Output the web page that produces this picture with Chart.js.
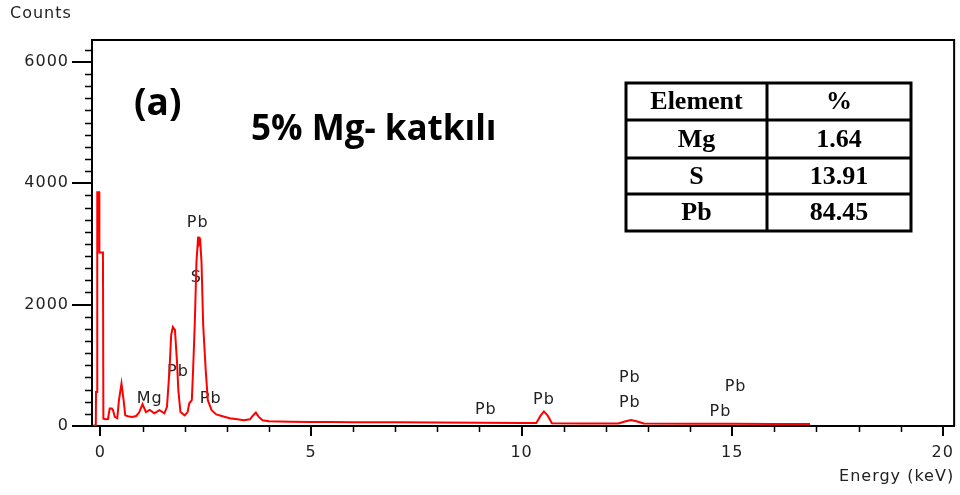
<!DOCTYPE html>
<html lang="tr">
<head>
  <meta charset="UTF-8">
  <title>EDS - 5% Mg- katkılı</title>
  <script src="https://cdn.jsdelivr.net/npm/chart.js"></script>
  <style>
    body { margin: 0; background: #fff; }
    #wrap { width: 960px; height: 495px; }
  </style>
</head>
<body>
  <div id="wrap"><canvas id="edsChart" width="960" height="495"></canvas></div>
  <script>
    // EDS spectrum: energy (keV) and counts
    const energies = [
      -0.17, -0.11, -0.105, -0.08, -0.075, -0.03, -0.025, 0.06, 0.07, 0.12,
      0.18, 0.22, 0.27, 0.30, 0.34, 0.40, 0.44, 0.50, 0.55, 0.59,
      0.65, 0.75, 0.85, 0.92, 1.00, 1.08, 1.17, 1.28, 1.40, 1.52,
      1.58, 1.64, 1.68, 1.72, 1.77, 1.82, 1.85, 1.90, 2.00, 2.07,
      2.11, 2.17, 2.20, 2.24, 2.28, 2.32, 2.34, 2.37, 2.40, 2.44,
      2.50, 2.55, 2.64, 2.75, 2.90, 3.07, 3.25, 3.40, 3.55, 3.62,
      3.69, 3.76, 3.85, 4.0, 4.5, 5.0, 5.5, 6.0, 7.0, 8.0,
      9.0, 10.0, 10.35, 10.45, 10.53, 10.62, 10.72, 11.5, 12.3, 12.45,
      12.6, 12.75, 12.9, 14.0, 15.0, 16.0, 16.85
    ];
    const counts = [
      10, 10, 560, 560, 3850, 3850, 2860, 2860, 120, 110,
      115, 290, 290, 260, 150, 130, 425, 700, 425, 175,
      160, 150, 165, 225, 360, 230, 265, 210, 260, 210,
      315, 920, 1500, 1630, 1580, 1035, 590, 230, 175, 230,
      375, 425, 920, 1680, 2700, 3120, 3000, 3050, 2700, 1660,
      920, 425, 260, 190, 160, 127, 110, 95, 110, 170,
      220, 150, 95, 80, 70, 66, 64, 62, 60, 56,
      52, 48, 48, 170, 240, 170, 45, 42, 40, 75,
      100, 75, 40, 38, 36, 34, 32
    ];

    const xTicks = [0, 5, 10, 15, 20];
    const yTicks = [0, 2000, 4000, 6000];

    // peak labels (name, energy, height of the label)
    const peakNames = ['Pb', 'S', 'Pb', 'Mg', 'Pb', 'Pb', 'Pb', 'Pb', 'Pb', 'Pb', 'Pb'];
    const peakKeV   = [2.31, 2.28, 1.84, 1.17, 2.62, 9.15, 10.53, 12.57, 12.57, 14.72, 15.08];
    const peakAt    = [3345, 2437, 886, 440, 440, 259, 424, 787, 375, 231, 644];

    // composition table
    const tableHead = ['Element', '%'];
    const elements = ['Mg', 'S', 'Pb'];
    const percents = ['1.64', '13.91', '84.45'];

    const tickFont = { family: 'DejaVu Sans', size: 16 };

    const extras = {
      id: 'extras',
      beforeDraw(chart) {
        // the instrument font is a bit wider
        chart.ctx.letterSpacing = '1px';
      },
      beforeDatasetsDraw(chart) {
        const ctx = chart.ctx;
        const xs = chart.scales.x, ys = chart.scales.y;
        ctx.save();
        ctx.font = '16px "DejaVu Sans"';
        ctx.fillStyle = '#222';
        ctx.textAlign = 'center';
        ctx.textBaseline = 'middle';
        peakNames.forEach((n, i) => {
          ctx.fillText(n, xs.getPixelForValue(peakKeV[i]), ys.getPixelForValue(peakAt[i]));
        });
        ctx.restore();
      },
      afterDraw(chart) {
        const ctx = chart.ctx;
        const a = chart.chartArea;
        const xs = chart.scales.x, ys = chart.scales.y;
        ctx.save();
        ctx.strokeStyle = '#000';
        ctx.lineWidth = 2;
        // top and right frame
        ctx.beginPath();
        ctx.moveTo(a.left, a.top);
        ctx.lineTo(a.right, a.top);
        ctx.lineTo(a.right, a.bottom);
        ctx.stroke();
        // minor ticks
        ctx.lineWidth = 1.5;
        ctx.beginPath();
        for (let v = 200; v <= 6200; v += 200) {
          if (v % 2000 === 0) continue;
          const y = Math.round(ys.getPixelForValue(v)) + 0.5;
          ctx.moveTo(a.left - 7, y);
          ctx.lineTo(a.left, y);
        }
        for (let k = 1; k < 20; k++) {
          if (k % 5 === 0) continue;
          const x = Math.round(xs.getPixelForValue(k)) + 0.5;
          ctx.moveTo(x, a.bottom);
          ctx.lineTo(x, a.bottom + 6);
        }
        ctx.stroke();

        // texts
        ctx.fillStyle = '#222';
        ctx.font = '16px "DejaVu Sans"';
        ctx.textAlign = 'left';
        ctx.textBaseline = 'middle';
        ctx.fillText('Counts', 10, 14);

        ctx.letterSpacing = '0px';
        ctx.fillStyle = '#000';
        ctx.font = 'bold 37px "Open Sans"';
        ctx.textBaseline = 'alphabetic';
        ctx.fillText('(a)', 134, 115);
        ctx.font = 'bold 35px "Open Sans"';
        ctx.fillText('5% Mg- katkılı', 251, 140);

        // table
        const tx = [626, 767, 911];
        const ty = [83, 120, 158, 194, 231];
        ctx.lineWidth = 3;
        ctx.strokeRect(tx[0], ty[0], tx[2] - tx[0], ty[4] - ty[0]);
        ctx.beginPath();
        ctx.moveTo(tx[1], ty[0]); ctx.lineTo(tx[1], ty[4]);
        for (let r = 1; r < 4; r++) { ctx.moveTo(tx[0], ty[r]); ctx.lineTo(tx[2], ty[r]); }
        ctx.stroke();
        ctx.font = 'bold 26px "Liberation Serif"';
        ctx.textAlign = 'center';
        ctx.textBaseline = 'middle';
        const rows = [tableHead].concat(elements.map((e, i) => [e, percents[i]]));
        rows.forEach((row, r) => {
          const cy = (ty[r] + ty[r + 1]) / 2 + 1;
          ctx.fillText(row[0], (tx[0] + tx[1]) / 2, cy);
          ctx.fillText(row[1], (tx[1] + tx[2]) / 2, cy);
        });
        ctx.restore();
      }
    };

    new Chart(document.getElementById('edsChart'), {
      type: 'line',
      data: {
        datasets: [{
          data: energies.map((e, i) => ({ x: e, y: counts[i] })),
          borderColor: '#ff0000',
          borderWidth: 2,
          pointRadius: 0,
          tension: 0,
          fill: false
        }]
      },
      options: {
        responsive: false,
        animation: false,
        layout: { padding: { top: 40, right: 4, left: 0, bottom: 0 } },
        plugins: { legend: { display: false }, tooltip: { enabled: false } },
        scales: {
          x: {
            type: 'linear',
            min: -0.2,
            max: 20.27,
            afterBuildTicks: s => { s.ticks = xTicks.map(v => ({ value: v })); },
            afterFit: s => { s.height = 69; },
            grid: { drawOnChartArea: false, tickLength: 10, color: '#000', lineWidth: 2 },
            border: { color: '#000', width: 2 },
            ticks: { color: '#222', font: tickFont, padding: 7, maxRotation: 0, autoSkip: false },
            title: {
              display: true, text: 'Energy (keV)', align: 'end', color: '#222',
              font: tickFont, padding: { top: 0, bottom: 9 }
            }
          },
          y: {
            min: 0,
            max: 6360,
            afterBuildTicks: s => { s.ticks = yTicks.map(v => ({ value: v })); },
            afterFit: s => { s.width = 92; },
            grid: { drawOnChartArea: false, tickLength: 20, color: '#000', lineWidth: 2 },
            border: { color: '#000', width: 2 },
            ticks: { color: '#222', font: tickFont, padding: 3, autoSkip: false, callback: v => String(v) }
          }
        }
      },
      plugins: [extras]
    });
  </script>
</body>
</html>
